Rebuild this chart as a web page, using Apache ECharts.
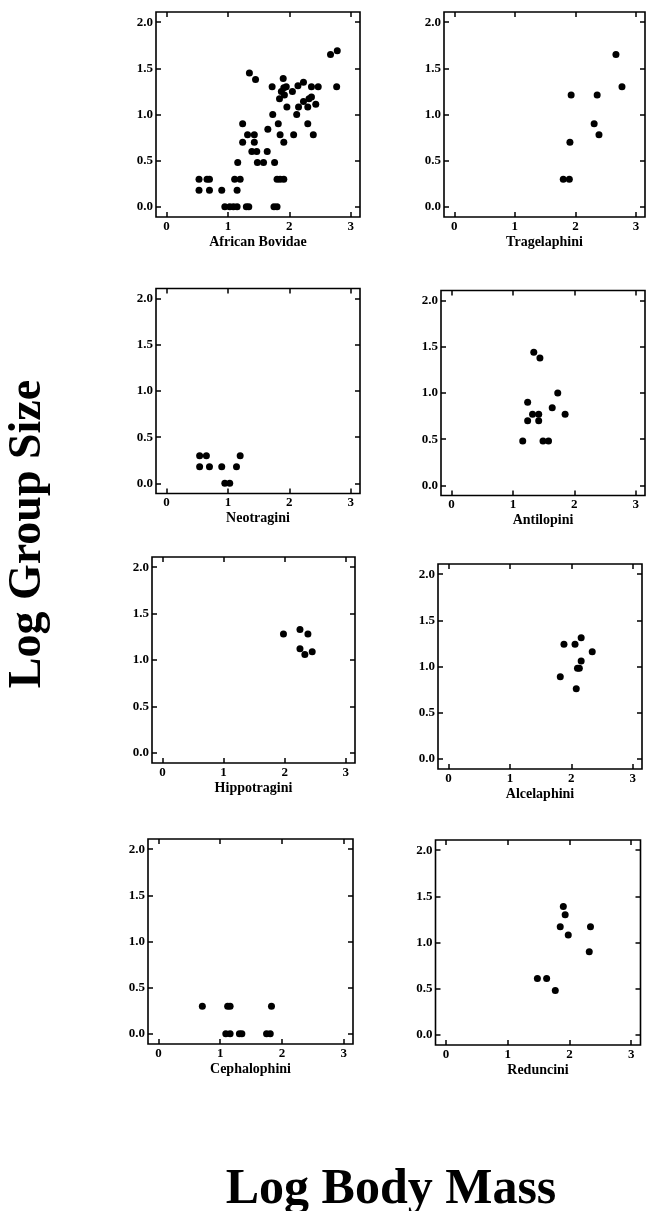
<!DOCTYPE html>
<html>
<head>
<meta charset="utf-8">
<script src="https://cdn.jsdelivr.net/npm/echarts@6/dist/echarts.min.js"></script>
<style>
html,body{margin:0;padding:0;background:#fff;}
#c{width:646px;height:1211px;}
</style>
</head>
<body>
<div id="c"></div>
<script>
// ---- data ----
const panelNames = ['African Bovidae','Tragelaphini','Neotragini','Antilopini','Hippotragini','Alcelaphini','Cephalophini','Reduncini'];
const xTicks = [0, 1, 2, 3];
const yTicks = [0, 0.5, 1.0, 1.5, 2.0];
const xAxisTitle = 'Log Body Mass';
const yAxisTitle = 'Log Group Size';

const africanBovidae = [
  [0.53,0.30],[0.53,0.18],[0.66,0.30],[0.70,0.30],[0.70,0.18],[0.90,0.18],
  [0.95,0],[1.03,0],[1.09,0],[1.15,0],
  [1.11,0.30],[1.20,0.30],[1.15,0.18],[1.16,0.48],
  [1.30,0],[1.34,0],
  [1.24,0.70],[1.24,0.90],[1.32,0.78],[1.39,0.60],[1.47,0.60],[1.43,0.78],[1.43,0.70],
  [1.35,1.45],[1.45,1.38],[1.48,0.48],[1.58,0.48],[1.64,0.60],[1.65,0.84],[1.73,1.00],[1.72,1.30],
  [1.76,0.48],[1.75,0],[1.80,0],[1.80,0.30],[1.85,0.30],[1.91,0.30],
  [1.82,0.90],[1.85,0.78],[1.91,0.70],[1.84,1.17],[1.87,1.25],[1.90,1.39],[1.92,1.21],[1.91,1.29],[1.95,1.30],[1.96,1.08],
  [2.05,1.25],[2.07,0.78],[2.12,1.00],[2.14,1.31],[2.15,1.08],[2.23,1.35],[2.23,1.14],
  [2.30,1.08],[2.30,0.90],[2.32,1.17],[2.36,1.19],[2.36,1.30],[2.39,0.78],[2.43,1.11],[2.47,1.30],
  [2.67,1.65],[2.78,1.69],[2.77,1.30]
];
const tragelaphini = [
  [1.80,0.30],[1.90,0.30],[1.91,0.70],[1.93,1.21],[2.31,0.90],[2.36,1.21],[2.39,0.78],[2.67,1.65],[2.77,1.30]
];
const neotragini = [
  [0.54,0.30],[0.65,0.30],[0.54,0.18],[0.70,0.18],[0.90,0.18],[1.14,0.18],[0.95,0],[1.03,0],[1.20,0.30]
];
const antilopini = [
  [1.16,0.48],[1.49,0.48],[1.58,0.48],[1.24,0.70],[1.24,0.90],[1.32,0.77],[1.42,0.77],[1.42,0.70],
  [1.34,1.44],[1.44,1.38],[1.64,0.84],[1.73,1.00],[1.85,0.77]
];
const hippotragini = [
  [1.98,1.28],[2.25,1.33],[2.38,1.28],[2.25,1.12],[2.33,1.06],[2.45,1.09]
];
const alcelaphini = [
  [1.82,0.89],[1.88,1.24],[2.06,1.24],[2.16,1.31],[2.34,1.16],[2.16,1.06],[2.10,0.98],[2.13,0.98],[2.08,0.76]
];
const cephalophini = [
  [0.71,0.30],[1.12,0.30],[1.16,0.30],[1.83,0.30],[1.09,0],[1.16,0],[1.31,0],[1.35,0],[1.75,0],[1.81,0]
];
const reduncini = [
  [1.48,0.61],[1.63,0.61],[1.77,0.48],[1.85,1.17],[1.90,1.39],[1.93,1.30],[1.98,1.08],[2.34,1.17],[2.32,0.90]
];
const panelData = [africanBovidae, tragelaphini, neotragini, antilopini, hippotragini, alcelaphini, cephalophini, reduncini];

// ---- layout ----
const X_MIN = -0.17, X_MAX = 3.15, Y_MIN = -0.11, Y_MAX = 2.11;
const layout = [
  {left:156,   top:12,    width:204, height:205},
  {left:444,   top:12,    width:201, height:205},
  {left:156,   top:288.5, width:204, height:205},
  {left:441,   top:290.5, width:204, height:205},
  {left:152,   top:557,   width:203, height:206},
  {left:438,   top:564,   width:204, height:205},
  {left:148,   top:839,   width:205, height:205},
  {left:435.5, top:840,   width:205, height:205}
];
const FONT = "'Liberation Serif','Times New Roman',serif";

const grids = [], xAxes = [], yAxes = [], series = [];
const tickStyle = {color:'#000', width:1.5};
const noLine = {show:false, onZero:false};
panelNames.forEach((name, i) => {
  grids.push(Object.assign({show:true, borderColor:'#000', borderWidth:1.6, backgroundColor:'#fff', containLabel:false}, layout[i]));
  xAxes.push({
    type:'value', gridIndex:i, position:'bottom', min:X_MIN, max:X_MAX,
    axisLine:noLine, splitLine:{show:false},
    axisTick:{show:true, inside:true, length:5, lineStyle:tickStyle, customValues:xTicks},
    axisLabel:{show:true, customValues:xTicks, margin:3, color:'#000', fontFamily:FONT, fontWeight:'bold', fontSize:13,
      formatter: v => String(Math.round(v))},
    name:name, nameLocation:'middle', nameGap:18,
    nameTextStyle:{color:'#000', fontFamily:FONT, fontWeight:'bold', fontSize:14}
  });
  xAxes.push({
    type:'value', gridIndex:i, position:'top', min:X_MIN, max:X_MAX,
    axisLine:noLine, splitLine:{show:false}, axisLabel:{show:false},
    axisTick:{show:true, inside:true, length:5, lineStyle:tickStyle, customValues:xTicks}
  });
  yAxes.push({
    type:'value', gridIndex:i, position:'left', min:Y_MIN, max:Y_MAX,
    axisLine:noLine, splitLine:{show:false},
    axisTick:{show:true, inside:true, length:5, lineStyle:tickStyle, customValues:yTicks},
    axisLabel:{show:true, customValues:yTicks, margin:3, color:'#000', fontFamily:FONT, fontWeight:'bold', fontSize:13,
      formatter: v => v.toFixed(1)}
  });
  yAxes.push({
    type:'value', gridIndex:i, position:'right', min:Y_MIN, max:Y_MAX,
    axisLine:noLine, splitLine:{show:false}, axisLabel:{show:false},
    axisTick:{show:true, inside:true, length:5, lineStyle:tickStyle, customValues:yTicks}
  });
  series.push({
    type:'scatter', name:name, xAxisIndex:2*i, yAxisIndex:2*i,
    data:panelData[i], symbol:'circle', symbolSize:7,
    itemStyle:{color:'#000', opacity:1}, silent:true
  });
});

const chart = echarts.init(document.getElementById('c'), null, {renderer:'canvas', width:646, height:1211});
chart.setOption({
  animation:false,
  backgroundColor:'#fff',
  grid:grids, xAxis:xAxes, yAxis:yAxes, series:series,
  graphic:[
    {type:'text', x:28, y:534, rotation:Math.PI/2,
      style:{text:yAxisTitle, font:"bold 46px " + FONT, fill:'#000', textAlign:'center', textVerticalAlign:'middle'}},
    {type:'text', x:391, y:1190,
      style:{text:xAxisTitle, font:"bold 50px " + FONT, fill:'#000', textAlign:'center', textVerticalAlign:'middle'}}
  ]
});
</script>
</body>
</html>
